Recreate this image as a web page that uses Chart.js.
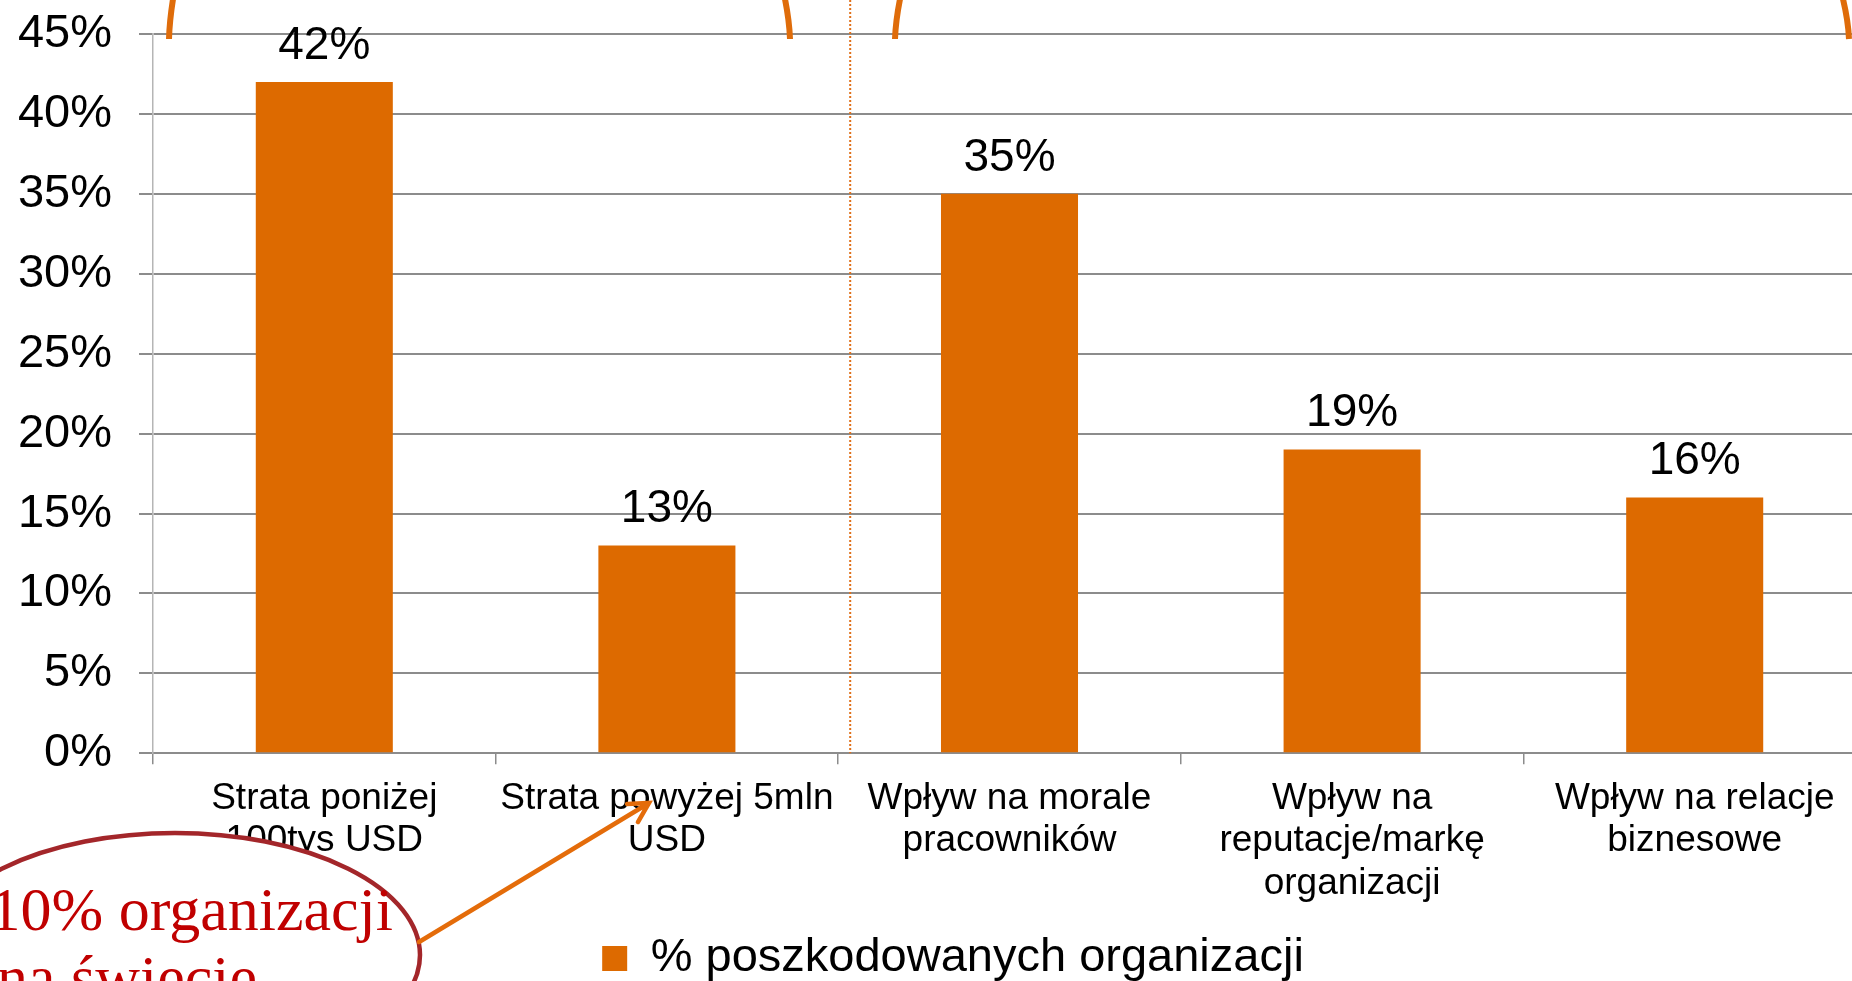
<!DOCTYPE html>
<html lang="pl">
<head>
<meta charset="utf-8">
<title>Straty organizacji</title>
<script src="https://cdn.jsdelivr.net/npm/chart.js@4.4.1/dist/chart.umd.min.js"></script>
<style>
    html, body { margin: 0; padding: 0; background: #fff; overflow: hidden; }
    #wrap { width: 1906px; height: 992px; }
</style>
</head>
<body>
<div id="wrap"><canvas id="lossChart" width="1906" height="992"></canvas></div>
<script>
const categories = [
    ['Strata poniżej', '100tys USD'],
    ['Strata powyżej 5mln', 'USD'],
    ['Wpływ na morale', 'pracowników'],
    ['Wpływ na', 'reputacje/markę', 'organizacji'],
    ['Wpływ na relacje', 'biznesowe']
];
const damagedShare = [42, 13, 35, 19, 16];
const seriesLabel = '% poszkodowanych organizacji';
const yTickMax = 45;
const yTickStep = 5;
const noteLines = ['10% organizacji', 'na świecie'];

const ORANGE = '#DD6A00';
const SANS = 'Liberation Sans';

// percentage above each bar
const valueLabels = {
    id: 'valueLabels',
    afterDatasetsDraw(chart) {
        const ctx = chart.ctx;
        const meta = chart.getDatasetMeta(0);
        ctx.save();
        ctx.font = '46px "' + SANS + '"';
        ctx.fillStyle = '#000';
        ctx.textAlign = 'center';
        ctx.textBaseline = 'middle';
        meta.data.forEach((bar, i) => {
            ctx.fillText(damagedShare[i] + '%', bar.x, bar.y - 36);
        });
        ctx.restore();
    }
};

// slide decorations: divider, bracket ends, callout ellipse and arrow
const decorations = {
    id: 'decorations',
    afterDraw(chart) {
        const ctx = chart.ctx;
        const x = chart.scales.x;
        const area = chart.chartArea;
        ctx.save();

        const divX = (x.getPixelForValue(1) + x.getPixelForValue(2)) / 2 + 12;
        ctx.strokeStyle = '#E0701A';
        ctx.lineWidth = 2;
        ctx.setLineDash([2, 2]);
        ctx.beginPath();
        ctx.moveTo(divX, 0);
        ctx.lineTo(divX, area.bottom);
        ctx.stroke();
        ctx.setLineDash([]);

        const brackets = [[173, 169], [785, 790], [900, 895], [1843, 1849]];
        ctx.strokeStyle = '#DF6C0A';
        ctx.lineWidth = 6;
        brackets.forEach(b => {
            ctx.beginPath();
            ctx.moveTo(b[0] + (b[0] - b[1]) * 0.3, -8);
            ctx.quadraticCurveTo(b[1] + (b[0] - b[1]) * 0.15, 18, b[1], 39);
            ctx.stroke();
        });

        ctx.beginPath();
        ctx.ellipse(175, 955, 245, 122, 0, 0, Math.PI * 2);
        ctx.fillStyle = '#fff';
        ctx.fill();
        ctx.strokeStyle = '#A3262A';
        ctx.lineWidth = 4.5;
        ctx.stroke();

        ctx.fillStyle = '#C00000';
        ctx.font = '62px "Liberation Serif"';
        ctx.textBaseline = 'alphabetic';
        ctx.textAlign = 'right';
        ctx.fillText(noteLines[0], 393, 930);
        ctx.textAlign = 'left';
        ctx.fillText(noteLines[1], -3, 998);

        const from = [419, 942];
        const tip = [649, 803];
        const ang = Math.atan2(tip[1] - from[1], tip[0] - from[0]);
        ctx.strokeStyle = '#E46C0A';
        ctx.lineWidth = 4.5;
        ctx.lineCap = 'round';
        ctx.beginPath();
        ctx.moveTo(from[0], from[1]);
        ctx.lineTo(tip[0], tip[1]);
        ctx.moveTo(tip[0] - 22 * Math.cos(ang - 0.5), tip[1] - 22 * Math.sin(ang - 0.5));
        ctx.lineTo(tip[0], tip[1]);
        ctx.lineTo(tip[0] - 22 * Math.cos(ang + 0.5), tip[1] - 22 * Math.sin(ang + 0.5));
        ctx.stroke();

        ctx.restore();
    }
};

const lossChart = new Chart(document.getElementById('lossChart').getContext('2d'), {
    type: 'bar',
    data: {
        labels: categories,
        datasets: [{
            label: seriesLabel,
            data: damagedShare,
            backgroundColor: ORANGE,
            borderWidth: 0,
            barPercentage: 0.4,
            categoryPercentage: 1
        }]
    },
    options: {
        responsive: false,
        animation: false,
        layout: {
            padding: { top: 34, left: 0, right: 0, bottom: 0 }
        },
        plugins: {
            tooltip: { enabled: false },
            legend: {
                position: 'bottom',
                labels: {
                    boxWidth: 25,
                    boxHeight: 25,
                    padding: 17,
                    color: '#000',
                    font: { family: SANS, size: 47 }
                }
            }
        },
        scales: {
            x: {
                grid: {
                    display: true,
                    drawOnChartArea: false,
                    drawTicks: true,
                    tickLength: 11,
                    color: '#8c8c8c',
                    lineWidth: 1.5,
                    offset: true
                },
                border: { display: true, color: '#8c8c8c', width: 2 },
                ticks: {
                    color: '#000',
                    font: { family: SANS, size: 37, lineHeight: 1.15 },
                    padding: 13,
                    maxRotation: 0,
                    autoSkip: false
                }
            },
            y: {
                min: 0,
                max: yTickMax,
                ticks: {
                    stepSize: yTickStep,
                    callback: v => v + '%',
                    color: '#000',
                    font: { family: SANS, size: 47 },
                    padding: 27
                },
                grid: { color: '#8c8c8c', lineWidth: 2, tickLength: 14, drawTicks: true },
                border: { color: '#b5b5b5', width: 1.5 },
                afterFit: s => {
                    s.width = 153;
                    s.paddingTop = 28;
                    s.paddingBottom = 28;
                }
            },
            yR: {
                position: 'right',
                display: true,
                grid: { display: false },
                border: { display: false },
                ticks: { display: false },
                afterFit: s => { s.width = 40; }
            }
        }
    },
    plugins: [valueLabels, decorations]
});
</script>
</body>
</html>
